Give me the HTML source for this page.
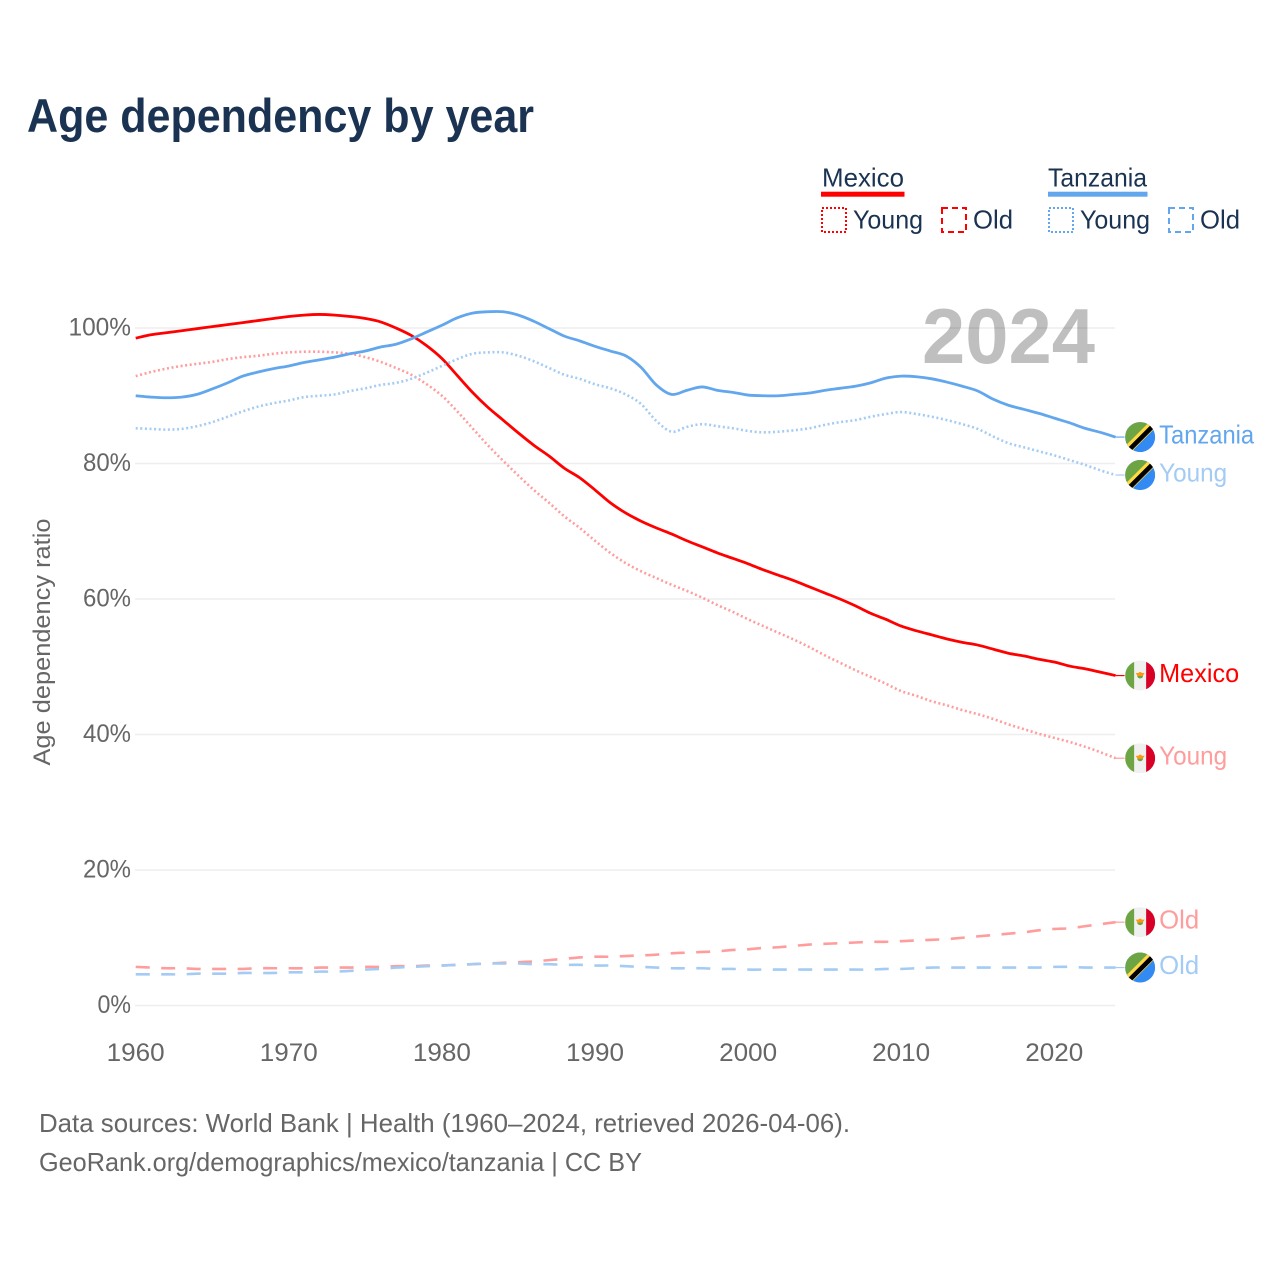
<!DOCTYPE html>
<html lang="en">
<head>
<meta charset="utf-8">
<title>Age dependency by year</title>
<style>
  html, body { margin: 0; padding: 0; background: #fff; }
  svg { display: block; font-family: "Liberation Sans", sans-serif; }
</style>
</head>
<body>
<svg id="chart" xmlns="http://www.w3.org/2000/svg" width="1280" height="1280" viewBox="0 0 1280 1280">
  <defs>
    <clipPath id="flag-clip"><circle cx="0" cy="0" r="15"/></clipPath>
    <g id="flag-mx" clip-path="url(#flag-clip)">
      <rect x="-15" y="-15" width="30" height="30" fill="#f0f0f0"/>
      <rect x="-15" y="-15" width="9" height="30" fill="#6da544"/>
      <rect x="6" y="-15" width="9" height="30" fill="#d80027"/>
      <path d="M-3 0a3 3 0 0 0 6 0z" fill="#6da544"/>
      <path d="M-4.5 -2.5h9l-2 3h-5z" fill="#ff9811"/>
      <circle cx="0" cy="-2" r="1.6" fill="#ff9811"/>
    </g>
    <g id="flag-tz" clip-path="url(#flag-clip)">
      <rect x="-15" y="-15" width="30" height="30" fill="#338af3"/>
      <path d="M-15 -15H15L-15 15z" fill="#6da544"/>
      <path d="M-15 9L9 -15H15V-9L-9 15H-15z" fill="#ffda44"/>
      <path d="M-15 12.5L12.5 -15H15V-11L-11 15H-15z" fill="#000" transform="translate(0.5 0.5)"/>
    </g>
  </defs>

  <text x="27" y="132" font-size="47" font-weight="700" fill="#1a3352" textLength="507" lengthAdjust="spacingAndGlyphs">Age dependency by year</text>

  <g font-size="26" fill="#1a3352">
    <g>
      <text x="822" y="186.5" textLength="82" lengthAdjust="spacingAndGlyphs">Mexico</text>
      <rect x="821" y="191.7" width="83.5" height="5" fill="#ff0000"/>
      <rect x="822" y="208" width="24" height="24" fill="none" stroke="#ff0000" stroke-width="2" stroke-dasharray="2 2"/>
      <text x="853" y="228.5" textLength="70" lengthAdjust="spacingAndGlyphs">Young</text>
      <rect x="942" y="208" width="24" height="24" fill="none" stroke="#ff0000" stroke-width="2" stroke-dasharray="6 4"/>
      <text x="973" y="228.5" textLength="40" lengthAdjust="spacingAndGlyphs">Old</text>
    </g>
    <g>
      <text x="1048" y="186.5" textLength="99" lengthAdjust="spacingAndGlyphs">Tanzania</text>
      <rect x="1048" y="191.7" width="99.5" height="5" fill="#62a6ee"/>
      <rect x="1049" y="208" width="24" height="24" fill="none" stroke="#62a6ee" stroke-width="2" stroke-dasharray="2 2"/>
      <text x="1080" y="228.5" textLength="70" lengthAdjust="spacingAndGlyphs">Young</text>
      <rect x="1169" y="208" width="24" height="24" fill="none" stroke="#62a6ee" stroke-width="2" stroke-dasharray="6 4"/>
      <text x="1200" y="228.5" textLength="40" lengthAdjust="spacingAndGlyphs">Old</text>
    </g>
  </g>

  <text transform="translate(50 642) rotate(-90)" text-anchor="middle" font-size="24" fill="#666" textLength="247" lengthAdjust="spacingAndGlyphs">Age dependency ratio</text>

  <g id="grid"></g>
  <g id="yticks"></g>
  <g id="xticks"></g>
  <text x="922" y="363" font-size="78" font-weight="700" fill="#000" fill-opacity="0.25" textLength="173" lengthAdjust="spacingAndGlyphs">2024</text>
  <g id="series"></g>
  <g id="endlabels"></g>

  <g font-size="26" fill="#666">
    <text x="39" y="1132" textLength="811" lengthAdjust="spacingAndGlyphs">Data sources: World Bank | Health (1960–2024, retrieved 2026-04-06).</text>
    <text x="39" y="1171" textLength="603" lengthAdjust="spacingAndGlyphs">GeoRank.org/demographics/mexico/tanzania | CC BY</text>
  </g>
</svg>

<script>
const firstYear = 1960;
const xTickLabels = [1960, 1970, 1980, 1990, 2000, 2010, 2020];
const yTickLabels = [0, 20, 40, 60, 80, 100];

const mexicoTotal = [
  98.5, 99.0, 99.3, 99.6, 99.9, 100.2, 100.5, 100.8, 101.1, 101.4,
  101.7, 101.9, 102.0, 101.9, 101.7, 101.4, 100.9, 100.0, 98.9, 97.4,
  95.5, 93.0, 90.5, 88.3, 86.4, 84.5, 82.7, 81.1, 79.3, 77.9,
  76.1, 74.2, 72.7, 71.5, 70.5, 69.6, 68.6, 67.7, 66.8, 66.0,
  65.2, 64.3, 63.5, 62.7, 61.8, 60.9, 60.0, 59.0, 57.9, 57.0,
  56.0, 55.3, 54.7, 54.1, 53.6, 53.2, 52.6, 52.0, 51.6, 51.1,
  50.7, 50.1, 49.7, 49.2, 48.7
];
const mexicoYoung = [
  92.9, 93.5, 94.0, 94.4, 94.7, 95.0, 95.4, 95.7, 95.9, 96.2,
  96.4, 96.5, 96.5, 96.4, 96.2, 95.7, 95.0, 94.1, 93.1, 91.7,
  90.0, 87.7, 85.2, 82.7, 80.4, 78.2, 76.1, 74.2, 72.2, 70.5,
  68.6, 66.8, 65.3, 64.1, 63.1, 62.1, 61.2, 60.2, 59.1, 58.1,
  57.0, 56.0, 55.0, 54.0, 52.9, 51.7, 50.6, 49.5, 48.5, 47.5,
  46.4, 45.7, 44.9, 44.3, 43.6, 43.0, 42.3, 41.5, 40.8, 40.1,
  39.5, 38.9, 38.2, 37.4, 36.5
];
const mexicoOld = [
  5.7, 5.6, 5.5, 5.5, 5.4, 5.4, 5.4, 5.4, 5.5, 5.5,
  5.5, 5.5, 5.6, 5.6, 5.6, 5.7, 5.7, 5.8, 5.8, 5.9,
  5.9, 6.0, 6.1, 6.2, 6.3, 6.4, 6.5, 6.7, 6.9, 7.1,
  7.2, 7.2, 7.3, 7.4, 7.5, 7.7, 7.8, 7.9, 8.0, 8.2,
  8.3, 8.5, 8.6, 8.8, 9.0, 9.1, 9.2, 9.3, 9.4, 9.4,
  9.5, 9.6, 9.7, 9.8, 10.0, 10.2, 10.4, 10.6, 10.8, 11.1,
  11.3, 11.4, 11.7, 12.0, 12.3
];
const tanzaniaTotal = [
  90.0, 89.8, 89.7, 89.8, 90.2, 91.0, 91.9, 92.9, 93.5, 94.0,
  94.4, 94.9, 95.3, 95.7, 96.2, 96.6, 97.2, 97.6, 98.4, 99.4,
  100.4, 101.5, 102.2, 102.4, 102.4, 101.9, 101.0, 99.9, 98.8, 98.1,
  97.3, 96.6, 95.9, 94.2, 91.6, 90.2, 90.8, 91.3, 90.8, 90.5,
  90.1, 90.0, 90.0, 90.2, 90.4, 90.8, 91.1, 91.4, 91.9, 92.6,
  92.9, 92.8, 92.5, 92.0, 91.4, 90.7, 89.5, 88.6, 88.0, 87.4,
  86.7, 86.0, 85.2, 84.6, 83.9
];
const tanzaniaYoung = [
  85.2, 85.1, 85.0, 85.1, 85.5, 86.1, 86.9, 87.7, 88.4, 88.9,
  89.3, 89.8, 90.0, 90.2, 90.7, 91.1, 91.6, 91.9, 92.5, 93.4,
  94.4, 95.4, 96.2, 96.4, 96.4, 95.9, 95.1, 94.1, 93.1, 92.5,
  91.7, 91.1, 90.2, 88.8, 86.3, 84.7, 85.4, 85.8, 85.5, 85.2,
  84.8, 84.6, 84.7, 84.9, 85.2, 85.7, 86.1, 86.4, 86.9, 87.3,
  87.6, 87.3, 86.9, 86.4, 85.8, 85.1, 84.0, 83.0, 82.4, 81.8,
  81.2, 80.5, 79.8, 79.0, 78.3
];
const tanzaniaOld = [
  4.6, 4.6, 4.6, 4.6, 4.7, 4.7, 4.7, 4.8, 4.8, 4.8,
  4.9, 4.9, 5.0, 5.0, 5.1, 5.3, 5.4, 5.6, 5.7, 5.8,
  5.9, 6.0, 6.1, 6.2, 6.2, 6.2, 6.1, 6.1, 6.0, 6.0,
  5.9, 5.9, 5.8, 5.7, 5.6, 5.5, 5.5, 5.5, 5.4, 5.4,
  5.3, 5.3, 5.3, 5.3, 5.3, 5.3, 5.3, 5.3, 5.3, 5.4,
  5.4, 5.5, 5.6, 5.6, 5.6, 5.6, 5.6, 5.6, 5.6, 5.6,
  5.7, 5.7, 5.6, 5.6, 5.6
];

const NS = 'http://www.w3.org/2000/svg';
const xScale = function (year) { return 135.7 + (year - 1960) * 15.31; };
const yScale = function (pct) { return 1005.5 - pct * 6.775; };
const PLOT_LEFT = 135;
const PLOT_RIGHT = 1115;

function make(tag, attrs, parent, text) {
  const el = document.createElementNS(NS, tag);
  Object.keys(attrs).forEach(function (k) { el.setAttribute(k, attrs[k]); });
  if (text !== undefined) el.textContent = text;
  parent.appendChild(el);
  return el;
}

function smoothPath(values) {
  const pts = values.map(function (v, i) { return [xScale(firstYear + i), yScale(v)]; });
  let d = 'M' + pts[0][0].toFixed(2) + ' ' + pts[0][1].toFixed(2);
  for (let i = 0; i < pts.length - 1; i++) {
    const p0 = pts[Math.max(i - 1, 0)];
    const p1 = pts[i];
    const p2 = pts[i + 1];
    const p3 = pts[Math.min(i + 2, pts.length - 1)];
    const c1x = p1[0] + (p2[0] - p0[0]) / 6;
    const c1y = p1[1] + (p2[1] - p0[1]) / 6;
    const c2x = p2[0] - (p3[0] - p1[0]) / 6;
    const c2y = p2[1] - (p3[1] - p1[1]) / 6;
    d += 'C' + c1x.toFixed(2) + ' ' + c1y.toFixed(2) + ' ' + c2x.toFixed(2) + ' ' + c2y.toFixed(2) + ' ' + p2[0].toFixed(2) + ' ' + p2[1].toFixed(2);
  }
  return d;
}

const grid = document.getElementById('grid');
const yticks = document.getElementById('yticks');
const xticks = document.getElementById('xticks');
const seriesGroup = document.getElementById('series');
const endLabels = document.getElementById('endlabels');

yTickLabels.forEach(function (v) {
  const line = make('line', { x1: PLOT_LEFT, x2: PLOT_RIGHT, y1: yScale(v), y2: yScale(v), stroke: '#eeeeee', 'stroke-width': 1.5 }, grid);
  
  
  const label = v + '%';
  const t = make('text', {
    x: 131, y: yScale(v) + 7.5, 'text-anchor': 'end', 'font-size': 25, fill: '#666',
    textLength: 14.5 * String(v).length + 19, lengthAdjust: 'spacingAndGlyphs'
  }, yticks, label);
  
  
});

xTickLabels.forEach(function (yr) {
  const t = make('text', {
    x: xScale(yr), y: 1061, 'text-anchor': 'middle', 'font-size': 25, fill: '#666',
    textLength: 58, lengthAdjust: 'spacingAndGlyphs'
  }, xticks, String(yr));
  
  
});

function drawSeries(name, values, color, width, dash, flag, labelText, labelLength) {
  const attrs = { d: smoothPath(values), fill: 'none', stroke: color, 'stroke-width': width, 'stroke-linejoin': 'round' };
  if (dash) attrs['stroke-dasharray'] = dash;
  const path = make('path', attrs, seriesGroup);
  
  

  const last = values[values.length - 1];
  const endX = xScale(firstYear + values.length - 1);
  const endY = yScale(last);
  const conn = make('line', { x1: endX, x2: endX + 9, y1: endY, y2: endY, stroke: color, 'stroke-width': 1.2 }, endLabels);
  
  
  const use = make('use', { href: '#' + flag, transform: 'translate(' + (endX + 24.6) + ' ' + endY + ')' }, endLabels);
  
  
  const label = make('text', {
    x: endX + 43.6, y: endY + 6.5, 'font-size': 26, fill: color,
    textLength: labelLength, lengthAdjust: 'spacingAndGlyphs'
  }, endLabels, labelText);
  
  
}

drawSeries('mexico-old', mexicoOld, '#ff9c9c', 2.6, '14 11.5', 'flag-mx', 'Old', 40);
drawSeries('mexico-young', mexicoYoung, '#ff9c9c', 2.6, '2 2.6', 'flag-mx', 'Young', 68);
drawSeries('mexico-total', mexicoTotal, '#ff0000', 2.8, '', 'flag-mx', 'Mexico', 80);
drawSeries('tanzania-old', tanzaniaOld, '#a3cbf4', 2.6, '14 11.5', 'flag-tz', 'Old', 40);
drawSeries('tanzania-young', tanzaniaYoung, '#a3cbf4', 2.6, '2 2.6', 'flag-tz', 'Young', 68);
drawSeries('tanzania-total', tanzaniaTotal, '#62a6ee', 2.8, '', 'flag-tz', 'Tanzania', 95);
</script>
</body>
</html>
